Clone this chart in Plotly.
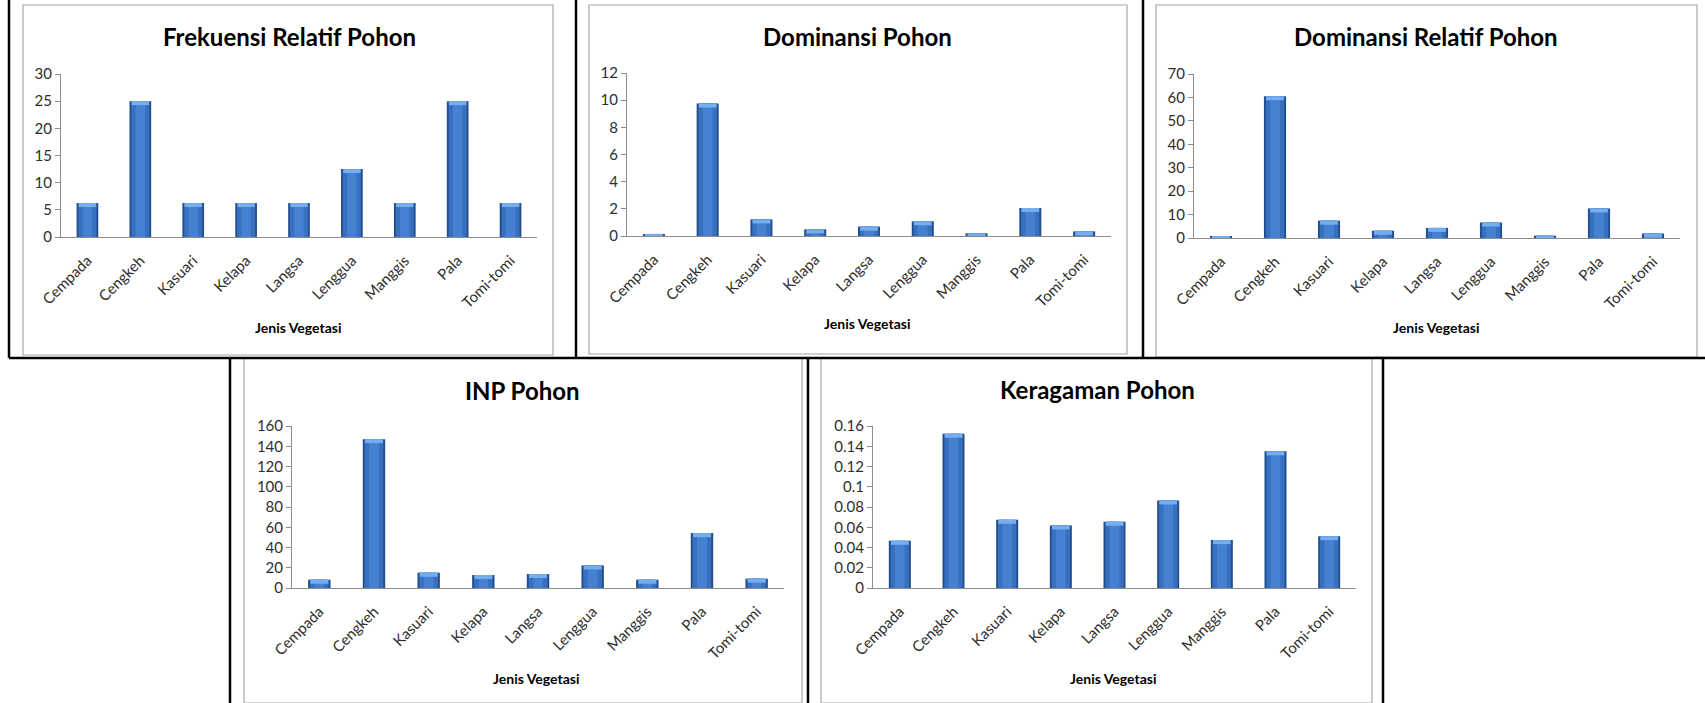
import plotly.graph_objects as go

W, H = 1705, 703

categories = ["Cempada", "Cengkeh", "Kasuari", "Kelapa", "Langsa", "Lenggua", "Manggis", "Pala", "Tomi-tomi"]

frekuensi_relatif = [6.25, 25, 6.25, 6.25, 6.25, 12.5, 6.25, 25, 6.25]
dominansi = [0.15, 9.75, 1.22, 0.49, 0.69, 1.08, 0.2, 2.06, 0.34]
dominansi_relatif = [0.8, 60.5, 7.4, 3.1, 4.3, 6.6, 1.0, 12.6, 1.9]
inp = [8.2, 147, 15.1, 12.8, 13.8, 22.3, 8.2, 54.2, 9.2]
keragaman = [0.0466, 0.1524, 0.0673, 0.0618, 0.0654, 0.0864, 0.0473, 0.135, 0.0512]

titles = ["Frekuensi Relatif Pohon", "Dominansi Pohon", "Dominansi Relatif Pohon", "INP Pohon", "Keragaman Pohon"]
x_title = "Jenis Vegetasi"
y_ranges = [(0, 30, 5), (0, 12, 2), (0, 70, 10), (0, 160, 20), (0, 0.16, 0.02)]
series = [frekuensi_relatif, dominansi, dominansi_relatif, inp, keragaman]

# layout geometry (pixels)
plot_x = [(61, 537), (627, 1111), (1194, 1680), (292, 784), (873, 1356)]
plot_y = [(74, 237), (73, 236), (74, 238), (426, 588), (426, 588)]
title_pos = [(289, 37), (858, 37), (1426, 37), (522, 390), (1097, 389)]
xtitle_pos = [(298, 327), (868, 324), (1436, 328), (536, 678), (1113, 678)]
boxes = [(23, 5, 553, 355), (589, 5, 1127, 354), (1156, 5, 1697, 357), (244, 358, 802, 703), (821, 358, 1372, 703)]

FONT = "Lato"
fig = go.Figure()

layers = [("#224E8E", 0.41), ("#3870C0", 0.34), ("#4680D0", 0.18)]
CAP_PX = 4

for i, vals in enumerate(series):
    xa = "x" if i == 0 else f"x{i+1}"
    ya = "y" if i == 0 else f"y{i+1}"
    x0, x1 = plot_x[i]
    y0, y1 = plot_y[i]
    lo, hi, dt = y_ranges[i]
    for color, w in layers:
        fig.add_trace(go.Bar(x=categories, y=vals, xaxis=xa, yaxis=ya,
                             marker=dict(color=color, line=dict(width=0)),
                             width=w, showlegend=False, hoverinfo="x+y"))
    # light highlight cap at the top of each bar (Excel-style bevel)
    cap = (hi - lo) * CAP_PX / (y1 - y0)
    cap_base = [max(v - cap, 0) for v in vals]
    cap_h = [v - b for v, b in zip(vals, cap_base)]
    fig.add_trace(go.Bar(x=categories, y=cap_h, base=cap_base, xaxis=xa, yaxis=ya,
                         marker=dict(color="#74AEEE", line=dict(width=0)),
                         width=0.33, showlegend=False, hoverinfo="skip"))
    xkey = "xaxis" if i == 0 else f"xaxis{i+1}"
    ykey = "yaxis" if i == 0 else f"yaxis{i+1}"
    fig.layout[xkey] = dict(domain=[x0 / W, x1 / W], anchor=ya, type="category",
                            showline=True, linecolor="#8C8C8C", linewidth=1,
                            showgrid=False, zeroline=False, tickangle=-45,
                            ticks="outside", ticklen=8, tickcolor="rgba(0,0,0,0)",
                            tickfont=dict(family=FONT, size=15, color="#2E2E2E"),
                            range=[-0.5, 8.5], fixedrange=True, automargin=False)
    fig.layout[ykey] = dict(domain=[1 - y1 / H, 1 - y0 / H], anchor=xa,
                            range=[lo, hi], dtick=dt, tick0=0,
                            showline=True, linecolor="#8C8C8C", linewidth=1,
                            showgrid=False, zeroline=False,
                            ticks="outside", ticklen=5, tickcolor="#8C8C8C",
                            tickfont=dict(family=FONT, size=15, color="#2E2E2E"),
                            fixedrange=True, automargin=False)
    tx, ty = title_pos[i]
    fig.add_annotation(x=tx / W, y=1 - ty / H, xref="paper", yref="paper",
                       text="<b>" + titles[i] + "</b>", showarrow=False,
                       font=dict(family=FONT, size=24, color="#000000"),
                       xanchor="center", yanchor="middle")
    gx, gy = xtitle_pos[i]
    fig.add_annotation(x=gx / W, y=1 - gy / H, xref="paper", yref="paper",
                       text="<b>" + x_title + "</b>", showarrow=False,
                       font=dict(family=FONT, size=14, color="#000000"),
                       xanchor="center", yanchor="middle")

shapes = []
for (bx0, by0, bx1, by1) in boxes:
    shapes.append(dict(type="rect", xref="paper", yref="paper",
                       x0=bx0 / W, x1=bx1 / W, y0=1 - by1 / H, y1=1 - by0 / H,
                       line=dict(color="#A6A6A6", width=1.2), layer="below"))

black_lines = [
    (9, 0, 9, 358), (576, 0, 576, 358), (1143, 0, 1143, 358),
    (9, 358, 1705, 358),
    (230, 358, 230, 703), (808, 358, 808, 703), (1383, 358, 1383, 703),
]
for (lx0, ly0, lx1, ly1) in black_lines:
    shapes.append(dict(type="line", xref="paper", yref="paper",
                       x0=lx0 / W, x1=lx1 / W, y0=1 - ly0 / H, y1=1 - ly1 / H,
                       line=dict(color="#000000", width=2.5)))

fig.update_layout(width=W, height=H,
                  margin=dict(l=0, r=0, t=0, b=0, pad=0, autoexpand=False),
                  paper_bgcolor="white", plot_bgcolor="rgba(0,0,0,0)",
                  barmode="overlay", shapes=shapes,
                  font=dict(family=FONT))

fig.write_html("out.html", config={"displayModeBar": False},
               post_script="document.body.style.margin='0';document.body.style.overflow='hidden';")
